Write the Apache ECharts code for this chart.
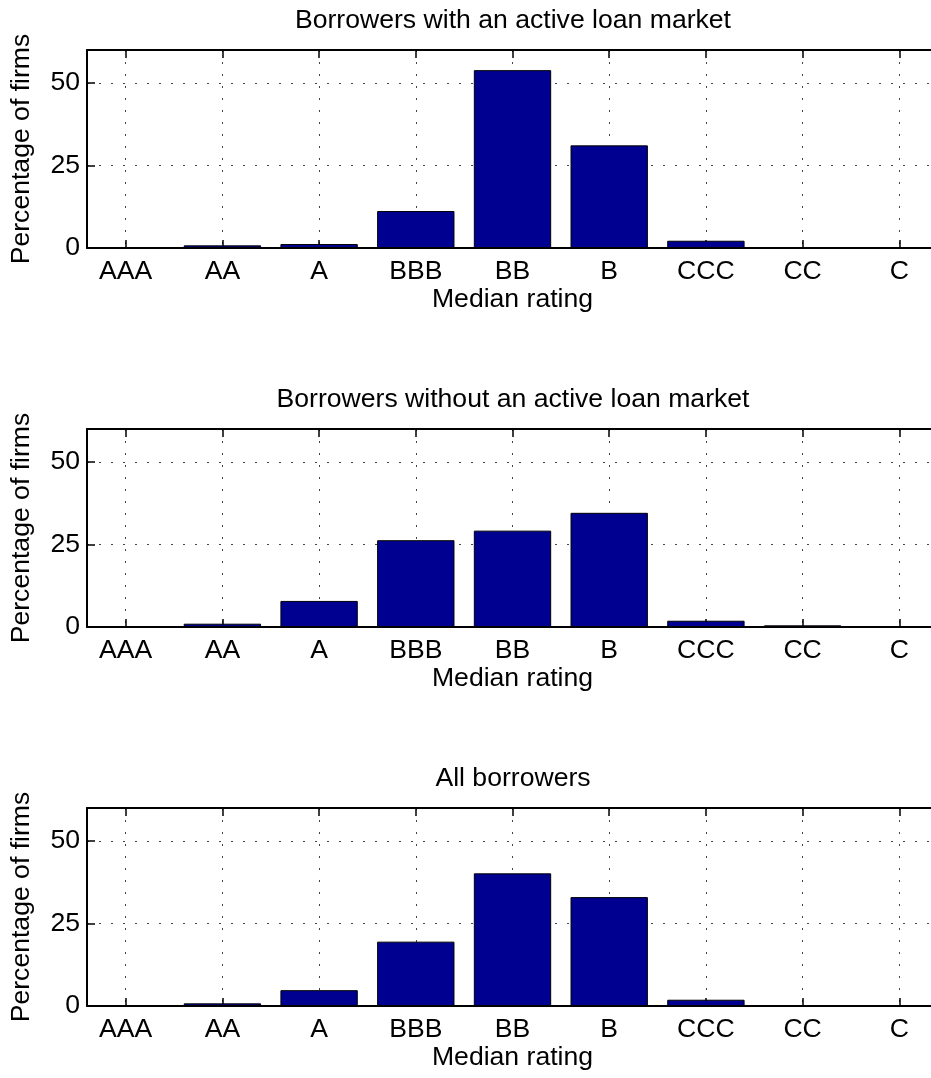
<!DOCTYPE html>
<html>
<head>
<meta charset="utf-8">
<script src="https://cdn.jsdelivr.net/npm/echarts@6/dist/echarts.min.js"></script>
<style>
html,body{margin:0;padding:0;background:#fff;overflow:hidden;}
#chart{width:945px;height:1078px;}
</style>
</head>
<body>
<div id="chart"></div>
<script>
// ---- data ----
const categories = ['AAA','AA','A','BBB','BB','B','CCC','CC','C'];
const titles = ['Borrowers with an active loan market','Borrowers without an active loan market','All borrowers'];
const activeMarket = [0, 0.8, 1.2, 11.2, 53.9, 31.1, 2.2, 0, 0];
const noActiveMarket = [0.1, 1.0, 7.9, 26.3, 29.2, 34.6, 1.9, 0.5, 0];
const allBorrowers = [0.05, 0.8, 4.8, 19.5, 40.2, 33.0, 1.9, 0.2, 0.1];
const yTicks = [0, 25, 50];
const xLabel = 'Median rating';
const yLabel = 'Percentage of firms';

const seriesData = [activeMarket, noActiveMarket, allBorrowers];
const FONT = "'Liberation Sans', Arial, Helvetica, sans-serif";
const FS = 26.6;
const gridTops = [50, 429, 808];
const titleTops = [7, 386, 765];
const xPositions = categories.map((c, i) => i + 1);

const chart = echarts.init(document.getElementById('chart'));
const grid = [], xAxis = [], yAxis = [], series = [], title = [];
const gridLine = {show: true, lineStyle: {color: '#444', width: 1, type: [2, 10]}};

gridTops.forEach((top, k) => {
  grid.push({left: 87, top: top, width: 851, height: 198, containLabel: false});
  title.push({
    text: titles[k], left: 513, textAlign: 'center', top: titleTops[k], padding: 0,
    textStyle: {fontFamily: FONT, fontSize: FS, fontWeight: 'normal', color: '#000'}
  });
  xAxis.push({
    type: 'value', gridIndex: k, min: 0.6, max: 9.4, splitNumber: 9,
    position: 'bottom',
    name: xLabel, nameLocation: 'middle', nameGap: 33,
    nameTextStyle: {fontFamily: FONT, fontSize: FS, color: '#000'},
    axisLine: {show: true, onZero: false, lineStyle: {color: '#000', width: 2}},
    axisTick: {show: true, inside: true, length: 8, customValues: xPositions, lineStyle: {color: '#000', width: 1.5}},
    axisLabel: {show: true, customValues: xPositions, margin: 10, fontFamily: FONT, fontSize: FS, color: '#000',
      formatter: v => categories[Math.round(v) - 1] || ''},
    splitLine: gridLine
  });
  xAxis.push({
    type: 'value', gridIndex: k, min: 0.6, max: 9.4, splitNumber: 9,
    position: 'top',
    axisLine: {show: true, onZero: false, lineStyle: {color: '#000', width: 2}},
    axisTick: {show: true, inside: true, length: 8, customValues: xPositions, lineStyle: {color: '#000', width: 1.5}},
    axisLabel: {show: false},
    splitLine: {show: false}
  });
  yAxis.push({
    type: 'value', gridIndex: k, min: 0, max: 60,
    name: yLabel, nameLocation: 'middle', nameGap: 52,
    nameTextStyle: {fontFamily: FONT, fontSize: FS, color: '#000'},
    axisLine: {show: true, lineStyle: {color: '#000', width: 2}},
    axisTick: {show: true, inside: true, length: 8, customValues: yTicks, lineStyle: {color: '#000', width: 1.5}},
    axisLabel: {show: true, customValues: yTicks, margin: 7, fontFamily: FONT, fontSize: FS, color: '#000'},
    splitLine: gridLine
  });
  series.push({
    type: 'bar', xAxisIndex: 2 * k, yAxisIndex: k,
    barWidth: '80%',
    data: seriesData[k].map((v, i) => [xPositions[i], v]),
    itemStyle: {color: '#000090', borderColor: '#000', borderWidth: 1},
    silent: true
  });
});

chart.setOption({
  animation: false,
  backgroundColor: '#fff',
  title: title,
  grid: grid,
  xAxis: xAxis,
  yAxis: yAxis,
  series: series
});
</script>
</body>
</html>
